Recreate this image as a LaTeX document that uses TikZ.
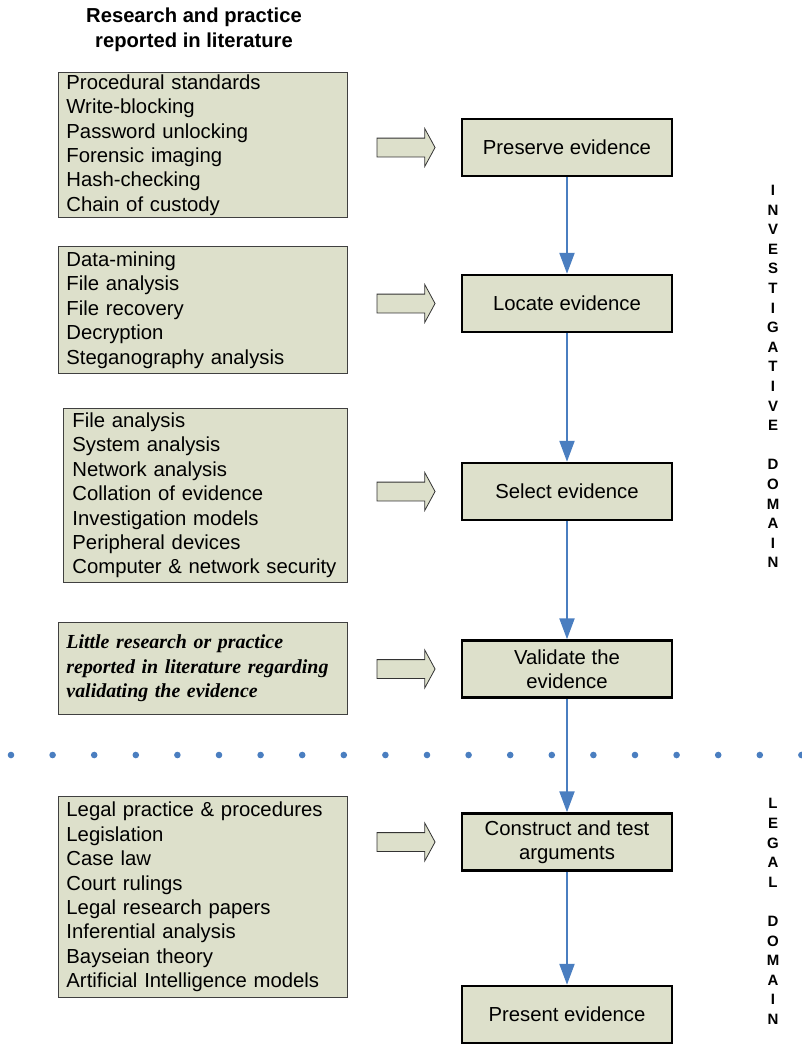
\documentclass[tikz,border=0pt]{standalone}
\usepackage{fontspec}
\setmainfont{Liberation Sans}
\newfontfamily\timesfont{Liberation Serif}
\usetikzlibrary{shapes,arrows.meta}
\definecolor{boxfill}{RGB}{221,224,203}
\definecolor{flowblue}{RGB}{74,126,192}

\begin{document}
\begin{tikzpicture}[x=1pt,y=-1pt]
\tikzset{every node/.style={font=\fontsize{20.3}{24.4}\selectfont}}
\tikzset{litbox/.style={draw=black!75,line width=0.9pt,fill=boxfill,align=left,anchor=north west,inner xsep=8pt,inner ysep=0pt,text width=273pt}}
\tikzset{stepbox/.style={draw,line width=2.5pt,fill=boxfill,align=center,minimum width=210pt,minimum height=57pt,inner sep=0pt}}
\tikzset{blockarrow/.style={single arrow,draw=black!80,fill=boxfill,line width=0.8pt,minimum height=58pt,inner xsep=0pt,inner ysep=9pt,single arrow head extend=9.5pt,single arrow tip angle=123}}
\tikzset{flow/.style={flowblue,line width=2.3pt,-{Triangle[length=21pt,width=15pt]}}}
\tikzset{sidelabel/.style={align=center,font=\bfseries\fontsize{15}{19.6}\selectfont}}
\useasboundingbox (0,0) rectangle (802,1045);
%\draw[red] (0,0) rectangle (802,1045);
\node[align=center,font=\bfseries\fontsize{20.2}{25}\selectfont] (head) at (194,29.5) {Research and practice\\reported in literature};
% literature boxes
\node[litbox,minimum height=145pt] (lit1) at (58,72) {Procedural standards\\Write-blocking\\Password unlocking\\Forensic imaging\\Hash-checking\\Chain of custody};
\node[litbox,minimum height=127pt] (lit2) at (58,246) {Data-mining\\File analysis\\File recovery\\Decryption\\Steganography analysis};
\node[litbox,minimum height=174pt,inner xsep=9pt,text width=266pt] (lit3) at (63,408) {File analysis\\System analysis\\Network analysis\\Collation of evidence\\Investigation models\\Peripheral devices\\Computer \& network security};
\node[litbox,minimum height=92pt,font=\timesfont\bfseries\itshape\fontsize{19.9}{24.5}\selectfont] (lit4) at (58,622) {Little research or practice\\reported in literature regarding\\validating the evidence};
\node[litbox,minimum height=201pt] (lit5) at (58,796) {Legal practice \& procedures\\Legislation\\Case law\\Court rulings\\Legal research papers\\Inferential analysis\\Bayseian theory\\Artificial Intelligence models};
% process steps
\node[stepbox] (pres) at (567,147.5) {Preserve evidence};
\node[stepbox] (loc) at (567,303.5) {Locate evidence};
\node[stepbox] (sel) at (567,491.5) {Select evidence};
\node[stepbox] (val) at (567,669) {Validate the\\evidence};
\node[stepbox] (con) at (567,842) {Construct and test\\arguments};
\node[stepbox] (prs) at (567,1014.5) {Present evidence};
% block arrows
\node[blockarrow] (arr1) at (403.5,147.5) {};
\node[blockarrow] (arr2) at (403.5,303.5) {};
\node[blockarrow] (arr3) at (403.5,491.5) {};
\node[blockarrow] (arr4) at (403.5,669) {};
\node[blockarrow] (arr5) at (403.5,842) {};
% domain divider
\foreach \i in {0,...,19} \fill[flowblue] (11+41.6*\i,755) circle (3.3pt);
\draw[flow] (pres) -- (loc);
\draw[flow] (loc) -- (sel);
\draw[flow] (sel) -- (val);
\draw[flow] (val) -- (con);
\draw[flow] (con) -- (prs);
\node[sidelabel] (invdom) at (773,376.5) {I\\N\\V\\E\\S\\T\\I\\G\\A\\T\\I\\V\\E\\[19.6pt]D\\O\\M\\A\\I\\N};
\node[sidelabel] (legdom) at (773,911.5) {L\\E\\G\\A\\L\\[19.6pt]D\\O\\M\\A\\I\\N};
\end{tikzpicture}
\end{document}
